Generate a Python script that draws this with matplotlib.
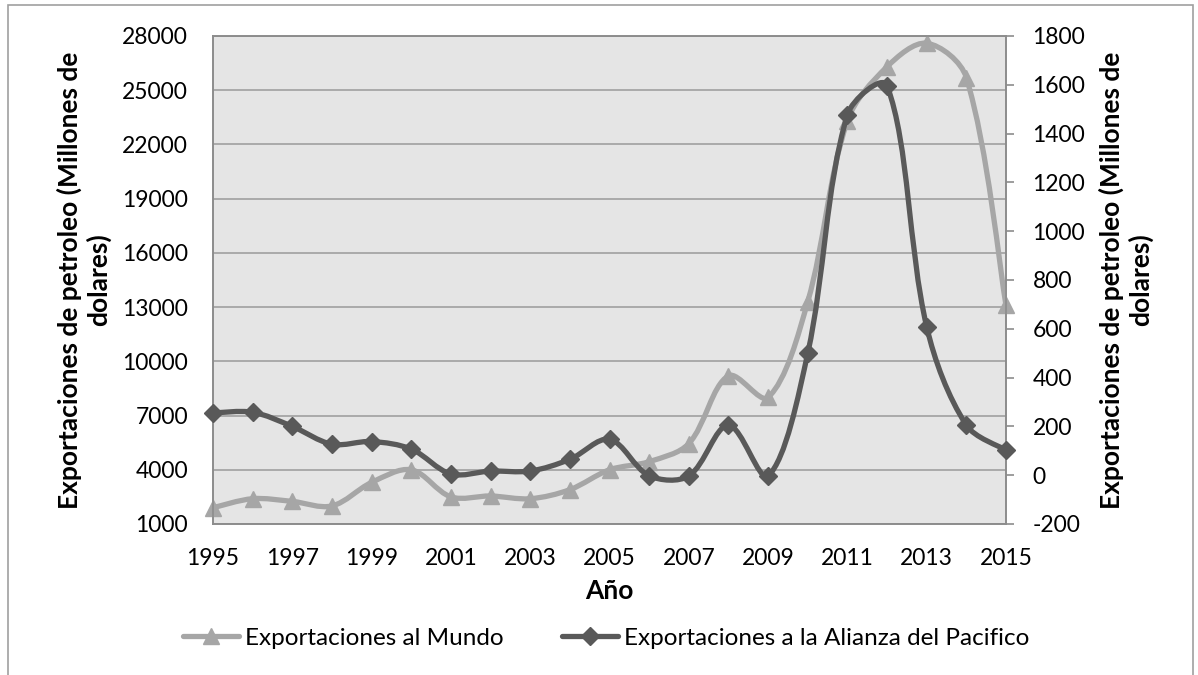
import matplotlib
matplotlib.use('Agg')
import matplotlib.pyplot as plt
from matplotlib.path import Path
from matplotlib.patches import PathPatch, Rectangle
from matplotlib.lines import Line2D

plt.rcParams['font.family'] = ['Lato', 'DejaVu Sans']
plt.rcParams['axes.unicode_minus'] = False

# datos
years = list(range(1995, 2016))
mundo = [1900, 2400, 2250, 2000, 3300, 4000, 2500, 2550, 2400, 2900, 4000,
         4450, 5450, 9200, 8000, 13300, 23300, 26300, 27600, 25700, 13100]
pacifico = [255, 258, 200, 127, 138, 107, 5, 17, 17, 65, 147,
            -2, -3, 205, -3, 500, 1478, 1597, 608, 205, 103]
left_ticks = list(range(1000, 28001, 3000))
right_ticks = list(range(-200, 1801, 200))
year_ticks = list(range(1995, 2016, 2))

ylabel = 'Exportaciones de petroleo (Millones de\ndolares)'
light, dark = '#A6A6A6', '#595959'
axis_grey = '#8C8C8C'

AX_W, AX_H = 793, 488  # tamano del area en pixeles


def smooth_path(xs, ys, xspan, yspan):
    # curva suave tipo Excel: bezier, tangentes ponderadas por la longitud
    # de los segmentos medida en pixeles
    sx, sy = AX_W / xspan, AX_H / yspan
    n = len(xs)

    def dist(i, j):
        return (((xs[j] - xs[i]) * sx) ** 2 + ((ys[j] - ys[i]) * sy) ** 2) ** 0.5

    verts = [(xs[0], ys[0])]
    codes = [Path.MOVETO]
    for i in range(n - 1):
        j = i + 1
        i0, j1 = max(i - 1, 0), min(j + 1, n - 1)
        # salida de i
        a, b = dist(i0, i), dist(i, j)
        f1 = b / (a + b) / 3 if a > 0 else 1 / 6
        c1 = (xs[i] + (xs[j] - xs[i0]) * f1, ys[i] + (ys[j] - ys[i0]) * f1)
        # llegada a j
        a, b = dist(i, j), dist(j, j1)
        f2 = a / (a + b) / 3 if b > 0 else 1 / 6
        c2 = (xs[j] - (xs[j1] - xs[i]) * f2, ys[j] - (ys[j1] - ys[i]) * f2)
        verts += [c1, c2, (xs[j], ys[j])]
        codes += [Path.CURVE4] * 3
    return Path(verts, codes)


fig = plt.figure(figsize=(11.98, 6.75), dpi=100)
fig.patches.append(Rectangle((8 / 1198, -0.05), 1185 / 1198, 1.05 - 5 / 675,
                             transform=fig.transFigure, fill=False,
                             ec='#A0A0A0', lw=1.2))

ax = fig.add_axes([213 / 1198, 1 - 524 / 675, AX_W / 1198, AX_H / 675])
ax.set_facecolor('#E5E5E5')
ax2 = ax.twinx()

ax.add_patch(PathPatch(smooth_path(years, mundo, 20, 27000), fill=False, ec=light,
                       lw=3.8, capstyle='round', joinstyle='round', zorder=3))
ax.plot(years, mundo, ls='none', marker='^', ms=12, color=light, mec=light,
        clip_on=False, zorder=4)

ax2.add_patch(PathPatch(smooth_path(years, pacifico, 20, 2000), fill=False, ec=dark,
                        lw=3.8, capstyle='round', joinstyle='round', zorder=3))
ax2.plot(years, pacifico, ls='none', marker='D', ms=9, color=dark, mec=dark,
         clip_on=False, zorder=4)

ax.set_xlim(1995, 2015)
ax.set_ylim(1000, 28000)
ax2.set_ylim(-200, 1800)
ax.set_xticks(year_ticks)
ax.set_yticks(left_ticks)
ax2.set_yticks(right_ticks)

ax.grid(axis='y', color='#A0A0A0', lw=1.2)
ax.set_axisbelow(True)
for a in (ax, ax2):
    for s in a.spines.values():
        s.set_color(axis_grey)
        s.set_linewidth(1.2)

ax.tick_params(axis='y', length=0, pad=18, labelsize=16.5)
ax.tick_params(axis='x', length=0, pad=17, labelsize=16.5)
ax2.tick_params(axis='y', length=6, width=1.2, color=axis_grey, pad=13, labelsize=16.5)

ax.set_ylabel(ylabel, fontsize=19, fontweight='bold')
ax.yaxis.set_label_coords((84 - 213) / 793, 0.5)
ax.yaxis.label.set_va('center')
ax2.set_ylabel(ylabel, fontsize=19, fontweight='bold', rotation=90)
ax2.yaxis.set_label_coords((1126 - 213) / 793, 0.5)
ax2.yaxis.label.set_va('center')
ax.set_xlabel('Año', fontsize=19, fontweight='bold')
ax.xaxis.set_label_coords(0.5, (524 - 591) / 488)
ax.xaxis.label.set_va('center')

handles = [
    Line2D([], [], color=light, lw=3.8, marker='^', ms=12, solid_capstyle='round'),
    Line2D([], [], color=dark, lw=3.8, marker='D', ms=9, solid_capstyle='round'),
]
fig.legend(handles, ['Exportaciones al Mundo', 'Exportaciones a la Alianza del Pacifico'],
           loc='center', bbox_to_anchor=(606 / 1198, 1 - 638 / 675), ncol=2,
           frameon=False, fontsize=17.5, handlelength=2.3, handletextpad=0.25,
           columnspacing=2.4)

fig.savefig('out.png', dpi=100)
